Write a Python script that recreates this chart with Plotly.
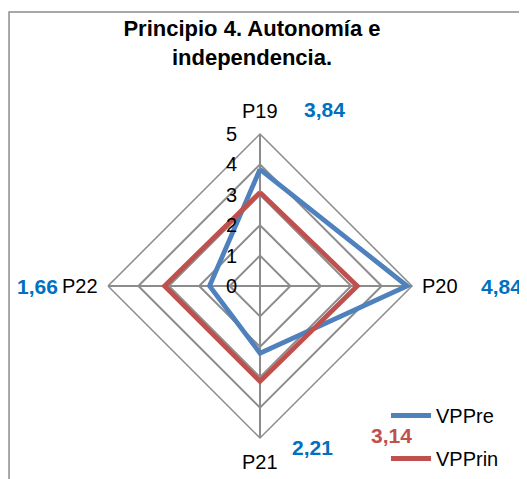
import plotly.graph_objects as go

# Data
categories = ["P19", "P20", "P21", "P22"]
vppre = [3.84, 4.84, 2.21, 1.66]
vpprin = [3.08, 3.20, 3.14, 3.14]
vpprin_mean = 3.14
radial_ticks = [0, 1, 2, 3, 4, 5]
r_max = 5

BLUE_LINE = "#4F81BD"
RED_LINE = "#C0504D"
BLUE_TEXT = "#0070C0"
GRID = "#8C8C8C"
FONT = "Liberation Sans, Arial, sans-serif"

# the page body keeps its default 8px margin, so the figure is drawn
# 8px right/down of the window corner; positions below are window pixels
OFF = 8
W, H = 527 - OFF, 479 - OFF
CX, CY, R = 260, 286, 152   # polar centre / radius, window pixels


def fmt(v):
    return f"{v:.2f}".replace(".", ",")


def closed(vals):
    return list(vals) + [vals[0]]


def px_to_paper(x, y):
    return (x - OFF) / W, 1 - (y - OFF) / H


fig = go.Figure()
fig.add_trace(go.Scatterpolar(
    r=closed(vppre), theta=closed(categories),
    mode="lines", name="VPPre",
    line=dict(color=BLUE_LINE, width=4.8),
    legendgroup="a",
))
fig.add_trace(go.Scatterpolar(
    r=closed(vpprin), theta=closed(categories),
    mode="lines", name="VPPrin",
    line=dict(color=RED_LINE, width=4.8),
    legendgroup="b",
))

x0, y1 = px_to_paper(CX - R, CY - R)
x1, y0 = px_to_paper(CX + R, CY + R)

fig.update_layout(
    width=W, height=H,
    paper_bgcolor="white",
    font=dict(family=FONT, color="black", size=20),
    margin=dict(l=0, r=0, t=0, b=0),
    title=dict(
        text="<b>Principio 4. Autonomía e<br>independencia.</b>",
        x=px_to_paper(252, 0)[0], xanchor="center",
        y=1 - 28 / H, yanchor="top",
        font=dict(family=FONT, size=22, color="black"),
    ),
    polar=dict(
        domain=dict(x=[x0, x1], y=[y0, y1]),
        bgcolor="white",
        gridshape="linear",
        angularaxis=dict(
            rotation=90, direction="clockwise",
            showline=True, linecolor=GRID, linewidth=1.5,
            gridcolor=GRID, gridwidth=1.5,
            ticks="", showticklabels=False,
        ),
        radialaxis=dict(
            range=[0, r_max], tickvals=radial_ticks, angle=90,
            showline=False, ticks="", showticklabels=False,
            gridcolor=GRID, gridwidth=1.5,
        ),
    ),
    showlegend=True,
    legend=dict(
        x=px_to_paper(386, 0)[0], y=1 - 429 / H,
        xanchor="left", yanchor="middle",
        font=dict(size=20, color="black"),
        tracegroupgap=14, itemwidth=40,
        bgcolor="rgba(0,0,0,0)",
    ),
)

# radial tick labels, left of the P19 spoke
for t in radial_ticks:
    x, y = px_to_paper(CX - 29, CY - t / r_max * R)
    fig.add_annotation(
        text=str(t), x=x, y=y, xref="paper", yref="paper",
        showarrow=False, xanchor="center", yanchor="middle",
        font=dict(family=FONT, size=20, color="black"),
    )

# category labels around the outer diamond
cat_pos = [
    (CX, CY - R - 23, "center"),
    (CX + R + 8, CY, "left"),
    (CX, CY + R + 24, "center"),
    (CX - R - 8, CY, "right"),
]
for cat, (cx_, cy_, anchor) in zip(categories, cat_pos):
    x, y = px_to_paper(cx_, cy_)
    fig.add_annotation(
        text=cat, x=x, y=y, xref="paper", yref="paper",
        showarrow=False, xanchor=anchor, yanchor="middle",
        font=dict(family=FONT, size=20, color="black"),
    )

# value labels (Excel text boxes)
labels = [
    (fmt(vppre[0]), 324, 110, BLUE_TEXT),
    (fmt(vppre[1]), 501, 286, BLUE_TEXT),
    (fmt(vppre[2]), 312, 447, BLUE_TEXT),
    (fmt(vppre[3]), 37, 286, BLUE_TEXT),
    (fmt(vpprin_mean), 391, 435, RED_LINE),
]
for txt, px_, py_, col in labels:
    x, y = px_to_paper(px_, py_)
    fig.add_annotation(
        text=f"<b>{txt}</b>", x=x, y=y,
        xref="paper", yref="paper", showarrow=False,
        xanchor="center", yanchor="middle",
        font=dict(family=FONT, size=21, color=col),
    )

# chart frame (cut off at right and bottom)
fx0, fy1 = px_to_paper(8, 12)
fig.add_shape(
    type="rect", xref="paper", yref="paper",
    x0=fx0 + 0.002, x1=1.1, y0=-0.1, y1=fy1,
    line=dict(color="#8C8C8C", width=1.5),
    layer="below",
)

fig.write_html("out.html")
